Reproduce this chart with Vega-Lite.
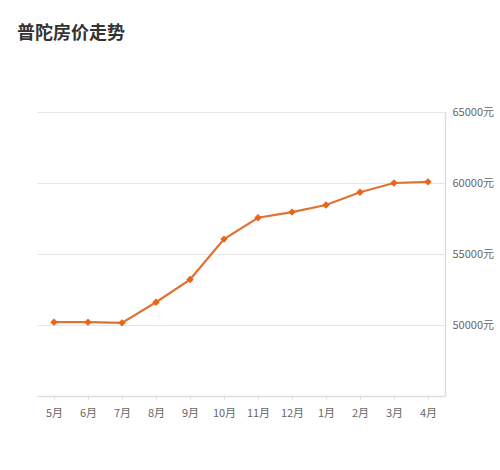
{
  "$schema": "https://vega.github.io/schema/vega-lite/v6.json",
  "autosize": "none",
  "width": 408,
  "height": 284,
  "padding": {"left": 37, "top": 112, "right": 55, "bottom": 74},
  "background": "white",
  "title": {
    "text": "普陀房价走势",
    "anchor": "start",
    "dx": -20,
    "offset": 63,
    "font": "Noto Sans CJK SC",
    "fontSize": 18,
    "fontWeight": "bold",
    "color": "#333333"
  },
  "data": {
    "values": [
      {"month": "5月", "price": 50200},
      {"month": "6月", "price": 50200},
      {"month": "7月", "price": 50150},
      {"month": "8月", "price": 51600},
      {"month": "9月", "price": 53200},
      {"month": "10月", "price": 56050},
      {"month": "11月", "price": 57550},
      {"month": "12月", "price": 57950},
      {"month": "1月", "price": 58450},
      {"month": "2月", "price": 59350},
      {"month": "3月", "price": 60000},
      {"month": "4月", "price": 60080}
    ]
  },
  "encoding": {
    "x": {
      "field": "month",
      "type": "ordinal",
      "sort": null,
      "scale": {"type": "point", "padding": 0.5},
      "axis": {
        "title": null,
        "labelAngle": 0,
        "domainColor": "#dddddd",
        "domainWidth": 1.5,
        "tickColor": "#dddddd",
        "tickSize": 3,
        "labelColor": "#666666",
        "labelFont": "Noto Sans CJK SC",
        "labelFontSize": 11,
        "labelPadding": 8
      }
    },
    "y": {
      "field": "price",
      "type": "quantitative",
      "scale": {"domain": [45000, 65000], "nice": false, "zero": false},
      "axis": {
        "title": null,
        "orient": "right",
        "values": [50000, 55000, 60000, 65000],
        "labelExpr": "datum.value + '元'",
        "domainColor": "#dddddd",
        "domainWidth": 1.5,
        "ticks": false,
        "gridColor": "#e6e6e6",
        "gridWidth": 1.2,
        "labelColor": "#666666",
        "labelFont": "Noto Sans CJK SC",
        "labelFontSize": 11,
        "labelPadding": 7
      }
    }
  },
  "layer": [
    {"mark": {"type": "line", "color": "#dd7433", "strokeWidth": 2.2}},
    {"mark": {"type": "point", "shape": "diamond", "filled": true, "color": "#e8651a", "size": 55, "opacity": 1}}
  ],
  "config": {"view": {"stroke": null}}
}
